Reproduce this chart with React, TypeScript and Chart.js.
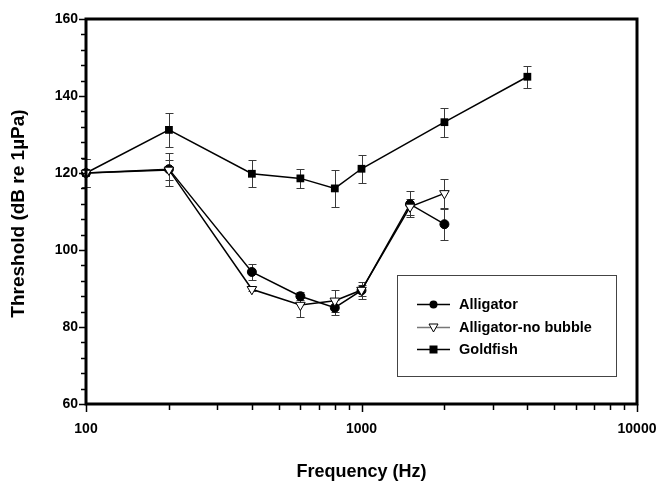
import React, { useEffect, useRef } from 'react';
import { Chart, registerables } from 'chart.js';

Chart.register(...registerables);

// Frequencies (Hz)
const alligatorFreq = [100, 200, 400, 600, 800, 1000, 1500, 2000];
const goldfishFreq = [100, 200, 400, 600, 800, 1000, 2000, 4000];

// Thresholds (dB re 1µPa)
const alligator = [120, 121, 94.3, 88, 85, 89.5, 111.9, 106.7];
const alligatorErr = [3.6, 4.3, 2, 1, 2, 1.5, 3.3, 4];
const noBubble = [120, 120.8, 89.8, 85.7, 86.8, 89.6, 111.2, 114.7];
const noBubbleErr = [3.6, 2.7, 0.5, 3, 2.8, 2.2, 2, 3.7];
const goldfish = [120, 131.2, 119.8, 118.6, 116, 121.1, 133.2, 145];
const goldfishErr = [3.6, 4.4, 3.5, 2.4, 4.8, 3.7, 3.8, 2.9];

const xTickLabels = [100, 1000, 10000];
const yTickLabels = [60, 80, 100, 120, 140, 160];

const legendLabels = ['Alligator', 'Alligator-no bubble', 'Goldfish'];

const FONT = '"Liberation Sans", Arial, sans-serif';

function pts(xs: number[], ys: number[]) {
  return xs.map((x, i) => ({ x, y: ys[i] }));
}

export default function App() {
  const ref = useRef<HTMLCanvasElement>(null);

  useEffect(() => {
    if (!ref.current) return;

    const errorBars = {
      id: 'errorBars',
      beforeDatasetsDraw(chart: any) {
        const ctx = chart.ctx;
        const xs = chart.scales.x;
        const ys = chart.scales.y;
        ctx.save();
        ctx.strokeStyle = '#3a3a3a';
        ctx.lineWidth = 1;
        chart.data.datasets.forEach((ds: any) => {
          const errs: number[] = ds.errors || [];
          ds.data.forEach((p: any, j: number) => {
            const e = errs[j];
            if (!e) return;
            const px = Math.round(xs.getPixelForValue(p.x)) + 0.5;
            const y1 = Math.round(ys.getPixelForValue(p.y + e)) + 0.5;
            const y2 = Math.round(ys.getPixelForValue(p.y - e)) + 0.5;
            ctx.beginPath();
            ctx.moveTo(px, y1);
            ctx.lineTo(px, y2);
            ctx.moveTo(px - 4, y1);
            ctx.lineTo(px + 4, y1);
            ctx.moveTo(px - 4, y2);
            ctx.lineTo(px + 4, y2);
            ctx.stroke();
          });
        });
        ctx.restore();
      },
    };

    const axesPlugin = {
      id: 'axesPlugin',
      afterDraw(chart: any) {
        const ctx = chart.ctx;
        const ca = chart.chartArea;
        const xs = chart.scales.x;
        const ys = chart.scales.y;
        ctx.save();
        // frame
        ctx.strokeStyle = '#000';
        ctx.lineWidth = 3;
        ctx.strokeRect(ca.left, ca.top, ca.right - ca.left, ca.bottom - ca.top);

        ctx.lineWidth = 1.5;
        // y ticks
        for (let v = 60; v <= 160; v += 4) {
          const py = Math.round(ys.getPixelForValue(v)) + 0.5;
          const major = yTickLabels.includes(v);
          ctx.beginPath();
          ctx.moveTo(ca.left - (major ? 7 : 5), py);
          ctx.lineTo(ca.left, py);
          ctx.stroke();
        }
        // x ticks
        const xt: number[] = [];
        for (const d of [100, 1000]) for (let k = 1; k <= 9; k++) xt.push(d * k);
        xt.push(10000);
        for (const v of xt) {
          const px = Math.round(xs.getPixelForValue(v)) + 0.5;
          const major = xTickLabels.includes(v);
          ctx.beginPath();
          ctx.moveTo(px, ca.bottom);
          ctx.lineTo(px, ca.bottom + (major ? 8 : 6));
          ctx.stroke();
        }

        ctx.fillStyle = '#000';
        ctx.font = `bold 14px ${FONT}`;
        ctx.textAlign = 'right';
        ctx.textBaseline = 'middle';
        for (const v of yTickLabels) {
          ctx.fillText(String(v), ca.left - 8, ys.getPixelForValue(v));
        }
        ctx.textAlign = 'center';
        for (const v of xTickLabels) {
          const px = xs.getPixelForValue(v);
          ctx.fillText(String(v), px, ca.bottom + 25);
        }

        // titles
        ctx.font = `bold 18px ${FONT}`;
        ctx.textAlign = 'center';
        ctx.textBaseline = 'middle';
        ctx.fillText('Frequency (Hz)', (ca.left + ca.right) / 2, 472);
        ctx.save();
        ctx.font = `bold 19px ${FONT}`;
        ctx.translate(19, (ca.top + ca.bottom) / 2 + 2);
        ctx.rotate(-Math.PI / 2);
        ctx.fillText('Threshold (dB re 1µPa)', 0, 0);
        ctx.restore();

        // legend
        const lx = 397.5, ly = 275.5, lw = 219, lh = 101;
        ctx.fillStyle = '#fff';
        ctx.fillRect(lx, ly, lw, lh);
        ctx.strokeStyle = '#444';
        ctx.lineWidth = 1;
        ctx.strokeRect(lx, ly, lw, lh);
        const rows = [304, 327, 349];
        chart.data.datasets.forEach((ds: any, i: number) => {
          const ry = rows[i] + 0.5;
          ctx.strokeStyle = i === 1 ? '#777' : '#000';
          ctx.lineWidth = 1.5;
          ctx.beginPath();
          ctx.moveTo(417, ry);
          ctx.lineTo(450, ry);
          ctx.stroke();
          ctx.strokeStyle = '#000';
          ctx.lineWidth = 1;
          const cx = 433.5;
          if (i === 0) {
            ctx.fillStyle = '#000';
            ctx.beginPath();
            ctx.arc(cx, ry, 4, 0, Math.PI * 2);
            ctx.fill();
          } else if (i === 1) {
            ctx.fillStyle = '#fff';
            ctx.beginPath();
            ctx.moveTo(cx - 4.5, ry - 3.5);
            ctx.lineTo(cx + 4.5, ry - 3.5);
            ctx.lineTo(cx, ry + 4.5);
            ctx.closePath();
            ctx.fill();
            ctx.stroke();
          } else {
            ctx.fillStyle = '#000';
            ctx.fillRect(cx - 4, ry - 4, 8, 8);
          }
          ctx.fillStyle = '#000';
          ctx.font = `bold 14.5px ${FONT}`;
          ctx.textAlign = 'left';
          ctx.textBaseline = 'middle';
          ctx.fillText(ds.label, 459, ry);
        });
        ctx.restore();
      },
    };

    const chart = new Chart(ref.current, {
      type: 'line',
      data: {
        datasets: [
          {
            label: legendLabels[0],
            data: pts(alligatorFreq, alligator),
            errors: alligatorErr,
            borderColor: '#000',
            borderWidth: 1.5,
            pointStyle: 'circle',
            pointRadius: 4.5,
            pointBackgroundColor: '#000',
            pointBorderColor: '#000',
            pointBorderWidth: 1,
            clip: false,
            order: 1,
          } as any,
          {
            label: legendLabels[1],
            data: pts(alligatorFreq, noBubble),
            errors: noBubbleErr,
            borderColor: '#000',
            borderWidth: 1.5,
            pointStyle: 'triangle',
            pointRotation: 180,
            pointRadius: 5.5,
            pointBackgroundColor: '#fff',
            pointBorderColor: '#000',
            pointBorderWidth: 1,
            clip: false,
            order: 0,
          } as any,
          {
            label: legendLabels[2],
            data: pts(goldfishFreq, goldfish),
            errors: goldfishErr,
            borderColor: '#000',
            borderWidth: 1.5,
            pointStyle: 'rect',
            pointRadius: 5.5,
            pointBackgroundColor: '#000',
            pointBorderColor: '#000',
            pointBorderWidth: 0,
            clip: false,
            order: 2,
          } as any,
        ],
      },
      options: {
        responsive: false,
        animation: false,
        devicePixelRatio: 1,
        layout: { padding: { left: 86, top: 19, right: 22, bottom: 79 } },
        plugins: { legend: { display: false }, tooltip: { enabled: false } },
        scales: {
          x: { type: 'logarithmic', min: 100, max: 10000, display: false },
          y: { type: 'linear', min: 60, max: 160, display: false },
        },
      },
      plugins: [errorBars, axesPlugin],
    });
    return () => chart.destroy();
  }, []);

  return (
    <div style={{ position: 'absolute', left: 0, top: 0, width: 659, height: 483, background: '#fff' }}>
      <canvas ref={ref} width={659} height={483} />
    </div>
  );
}
